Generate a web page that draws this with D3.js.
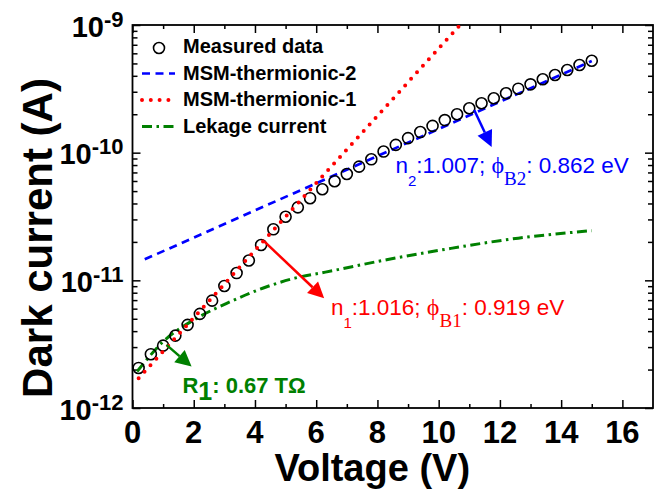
<!DOCTYPE html>
<html>
<head>
<meta charset="utf-8">
<script src="https://cdn.jsdelivr.net/npm/d3@7"></script>
<style>
    body { margin: 0; background: #fff; }
    svg { display: block; font-family: 'Liberation Sans', Arial, sans-serif; }
</style>
</head>
<body>
<div id="chart"></div>
<script>
(function () {
    'use strict';

    // measured dark current vs bias
    let measuredV = [0.2, 0.6, 1.0, 1.4, 1.8, 2.2, 2.6, 3.0, 3.4, 3.8, 4.2, 4.6, 5.0, 5.4, 5.8, 6.2, 6.6,
        7.0, 7.4, 7.8, 8.2, 8.6, 9.0, 9.4, 9.8, 10.2, 10.6, 11.0, 11.4, 11.8, 12.2, 12.6, 13.0, 13.4,
        13.8, 14.2, 14.6, 15.0];
    let measuredI = [2.06e-12, 2.64e-12, 3.08e-12, 3.69e-12, 4.48e-12, 5.46e-12, 6.93e-12, 9.04e-12,
        1.14e-11, 1.43e-11, 1.89e-11, 2.51e-11, 3.15e-11, 3.73e-11, 4.40e-11, 5.17e-11, 5.97e-11,
        6.81e-11, 7.77e-11, 8.87e-11, 1.02e-10, 1.15e-10, 1.30e-10, 1.45e-10, 1.62e-10, 1.80e-10,
        2.00e-10, 2.23e-10, 2.44e-10, 2.67e-10, 2.92e-10, 3.17e-10, 3.43e-10, 3.76e-10, 4.06e-10,
        4.44e-10, 4.86e-10, 5.25e-10];

    // fitted curves
    let thermionic2V = [0.4, 15.0];
    let thermionic2I = [1.46e-11, 5.22e-10];
    let thermionic1V = [0.2, 10.7];
    let thermionic1I = [1.71e-12, 1.0e-9];
    let leakageV = [0.15, 1.0, 2.1, 3.2, 4.25, 5.3, 6.3, 8.3, 10.4, 12.6, 15.0];
    let leakageI = [1.93e-12, 3.31e-12, 5.05e-12, 6.81e-12, 8.67e-12, 1.04e-11, 1.16e-11, 1.45e-11,
        1.78e-11, 2.14e-11, 2.45e-11];

    // axes
    let xMajorTicks = [0, 2, 4, 6, 8, 10, 12, 14, 16];
    let xMinorTicks = [1, 3, 5, 7, 9, 11, 13, 15];
    let yMajorExponents = [-12, -11, -10, -9];
    let yMinorMantissas = [2, 3, 4, 5, 6, 7, 8, 9];

    let legendLabels = ['Measured data', 'MSM-thermionic-2', 'MSM-thermionic-1', 'Lekage current'];

    // annotation arrows, [V, I]
    let arrowColors = ['#0000ff', '#ff0000', '#008000'];
    let arrowStart = [[11.16, 2.16e-10], [4.31, 2.01e-11], [1.11, 3.12e-12]];
    let arrowEnd = [[11.73, 1.11e-10], [6.26, 7.24e-12], [1.93, 2.11e-12]];
    let labelAnchor = [[8.59, 6.93e-11], [6.48, 5.36e-12], [1.63, 1.31e-12]];

    let blue = '#0000ff';
    let red = '#ff0000';
    let green = '#008000';
    let serif = "'Liberation Serif', 'DejaVu Serif', serif";

    let width = 665;
    let height = 495;
    let left = 132.5, right = 653, top = 25, bottom = 408;

    let svg = d3.select('#chart').append('svg')
        .attr('width', width)
        .attr('height', height);

    let x = d3.scaleLinear().domain([0, 17]).range([left, right]);
    let y = d3.scaleLog().domain([1e-12, 1e-9]).range([bottom, top]);

    svg.append('clipPath').attr('id', 'plot-clip')
        .append('rect')
        .attr('x', left).attr('y', top)
        .attr('width', right - left).attr('height', bottom - top);

    // ticks (all pointing inward)
    let yMajor = yMajorExponents.map(function (e) { return Math.pow(10, e); });
    let yMinor = [];
    for (let i = 0; i < yMajorExponents.length - 1; i++) {
        for (let j = 0; j < yMinorMantissas.length; j++) {
            yMinor.push(yMinorMantissas[j] * Math.pow(10, yMajorExponents[i]));
        }
    }

    function ticks(axisFn, scale, values, size, tx, ty) {
        let g = svg.append('g')
            .attr('transform', 'translate(' + tx + ',' + ty + ')')
            .call(axisFn(scale).tickValues(values).tickSize(size).tickSizeOuter(0).tickFormat(''));
        g.select('.domain').remove();
        g.selectAll('line').attr('stroke', '#000').attr('stroke-width', 1.5);
    }
    ticks(d3.axisBottom, x, xMajorTicks, -8, 0, bottom);
    ticks(d3.axisBottom, x, xMinorTicks, -4, 0, bottom);
    ticks(d3.axisTop, x, xMajorTicks, -8, 0, top);
    ticks(d3.axisTop, x, xMinorTicks, -4, 0, top);
    ticks(d3.axisLeft, y, yMajor, -8, left, 0);
    ticks(d3.axisLeft, y, yMinor, -5, left, 0);
    ticks(d3.axisRight, y, yMajor, -8, right, 0);
    ticks(d3.axisRight, y, yMinor, -5, right, 0);

    svg.append('rect')
        .attr('x', left).attr('y', top)
        .attr('width', right - left).attr('height', bottom - top)
        .attr('fill', 'none')
        .attr('stroke', '#000')
        .attr('stroke-width', 1.8);

    // tick labels
    svg.append('g').selectAll('text')
        .data(xMajorTicks)
        .enter().append('text')
        .attr('x', function (d) { return x(d); })
        .attr('y', bottom + 35)
        .attr('text-anchor', 'middle')
        .attr('font-weight', 'bold')
        .attr('font-size', 31)
        .text(function (d) { return d; });

    let yLabels = svg.append('g').selectAll('text')
        .data(yMajorExponents)
        .enter().append('text')
        .attr('x', left - 9)
        .attr('y', function (d) { return y(Math.pow(10, d)) + 11.5; })
        .attr('text-anchor', 'end')
        .attr('font-weight', 'bold');
    yLabels.append('tspan').attr('font-size', 29).text('10');
    yLabels.append('tspan').attr('font-size', 22).attr('dy', -10)
        .text(function (d) { return d; });

    // axis titles
    svg.append('text')
        .attr('x', (left + 612) / 2)
        .attr('y', 481)
        .attr('text-anchor', 'middle')
        .attr('font-weight', 'bold')
        .attr('font-size', 38)
        .text('Voltage (V)');
    svg.append('text')
        .attr('transform', 'translate(52,238) rotate(-90)')
        .attr('text-anchor', 'middle')
        .attr('font-weight', 'bold')
        .attr('font-size', 42)
        .text('Dark current (A)');

    // curves
    let plot = svg.append('g').attr('clip-path', 'url(#plot-clip)');
    let line = d3.line()
        .x(function (d) { return x(d[0]); })
        .y(function (d) { return y(d[1]); });

    function pairs(vs, is) { return vs.map(function (v, i) { return [v, is[i]]; }); }

    plot.append('path')
        .datum(pairs(leakageV, leakageI))
        .attr('d', line.curve(d3.curveMonotoneX))
        .attr('fill', 'none')
        .attr('stroke', green)
        .attr('stroke-width', 3)
        .attr('stroke-dasharray', '10,4.5,2.5,4.5');
    line.curve(d3.curveLinear);

    plot.append('path')
        .datum(pairs(thermionic2V, thermionic2I))
        .attr('d', line)
        .attr('fill', 'none')
        .attr('stroke', blue)
        .attr('stroke-width', 2.7)
        .attr('stroke-dasharray', '8,5.5');

    plot.append('g').selectAll('circle')
        .data(pairs(measuredV, measuredI))
        .enter().append('circle')
        .attr('cx', function (d) { return x(d[0]); })
        .attr('cy', function (d) { return y(d[1]); })
        .attr('r', 5.5)
        .attr('fill', 'none')
        .attr('stroke', '#000')
        .attr('stroke-width', 1.6);

    plot.append('path')
        .datum(pairs(thermionic1V, thermionic1I))
        .attr('d', line)
        .attr('fill', 'none')
        .attr('stroke', red)
        .attr('stroke-width', 4)
        .attr('stroke-linecap', 'round')
        .attr('stroke-dasharray', '0,8.8');

    // legend
    let legend = svg.append('g');
    let rowY = function (i) { return 53 + i * 26.5; };
    legend.selectAll('text')
        .data(legendLabels)
        .enter().append('text')
        .attr('x', 183)
        .attr('y', function (d, i) { return rowY(i); })
        .attr('font-weight', 'bold')
        .attr('font-size', 20)
        .text(function (d) { return d; });
    legend.append('circle')
        .attr('cx', 159).attr('cy', rowY(0) - 5).attr('r', 5.5)
        .attr('fill', 'none').attr('stroke', '#000').attr('stroke-width', 1.6);
    legend.append('line')
        .attr('x1', 142).attr('x2', 175).attr('y1', rowY(1) - 6).attr('y2', rowY(1) - 6)
        .attr('stroke', blue).attr('stroke-width', 2.7).attr('stroke-dasharray', '8,5.5');
    legend.append('line')
        .attr('x1', 142).attr('x2', 172).attr('y1', rowY(2) - 6).attr('y2', rowY(2) - 6)
        .attr('stroke', red).attr('stroke-width', 4).attr('stroke-linecap', 'round')
        .attr('stroke-dasharray', '0,8.8');
    legend.append('line')
        .attr('x1', 142).attr('x2', 174).attr('y1', rowY(3) - 6).attr('y2', rowY(3) - 6)
        .attr('stroke', green).attr('stroke-width', 3).attr('stroke-dasharray', '10,4.5,2.5,4.5');

    // arrows
    for (let i = 0; i < arrowColors.length; i++) {
        let p0 = [x(arrowStart[i][0]), y(arrowStart[i][1])];
        let p1 = [x(arrowEnd[i][0]), y(arrowEnd[i][1])];
        let dx = p1[0] - p0[0], dy = p1[1] - p0[1];
        let len = Math.sqrt(dx * dx + dy * dy);
        let ux = dx / len, uy = dy / len;
        let headLen = 16, headW = 8;
        let bx = p1[0] - ux * headLen, by = p1[1] - uy * headLen;
        svg.append('line')
            .attr('x1', p0[0]).attr('y1', p0[1])
            .attr('x2', bx).attr('y2', by)
            .attr('stroke', arrowColors[i])
            .attr('stroke-width', 2.5);
        svg.append('path')
            .attr('d', 'M' + p1[0] + ',' + p1[1] +
                'L' + (bx - uy * headW) + ',' + (by + ux * headW) +
                'L' + (bx + uy * headW) + ',' + (by - ux * headW) + 'Z')
            .attr('fill', arrowColors[i]);
    }

    // fit parameter labels
    function fitLabel(i, sub1, sub2, rest1, rest2) {
        let t = svg.append('text')
            .attr('x', x(labelAnchor[i][0]))
            .attr('y', y(labelAnchor[i][1]))
            .attr('fill', arrowColors[i])
            .attr('font-size', 22.5);
        t.append('tspan').text('n');
        t.append('tspan').attr('font-size', 15).attr('dy', 13).text(sub1);
        t.append('tspan').attr('dy', -13).text(rest1);
        t.append('tspan').attr('font-family', serif).attr('font-size', 24).text('\u03d5');
        t.append('tspan').attr('font-family', serif)
            .attr('font-size', 19).attr('dy', 12).text(sub2);
        t.append('tspan').attr('dy', -12).text(rest2);
    }
    fitLabel(0, '2', 'B2', ':1.007; ', ': 0.862 eV');
    fitLabel(1, '1', 'B1', ':1.016; ', ': 0.919 eV');

    let r = svg.append('text')
        .attr('x', x(labelAnchor[2][0]))
        .attr('y', y(labelAnchor[2][1]))
        .attr('fill', arrowColors[2])
        .attr('font-weight', 'bold')
        .attr('font-size', 22);
    r.append('tspan').text('R');
    r.append('tspan').attr('font-size', 25).attr('dy', 7).text('1');
    r.append('tspan').attr('dy', -7).text(': 0.67 T\u03a9');
})();
</script>
</body>
</html>
